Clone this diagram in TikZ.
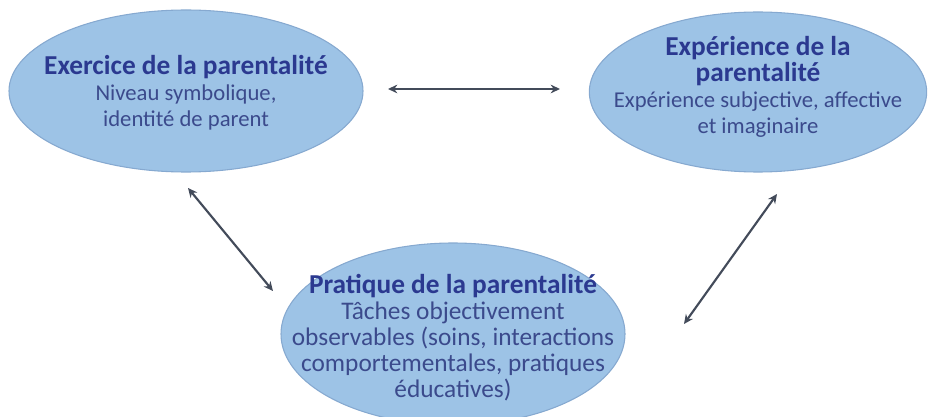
\documentclass[tikz,border=0pt]{standalone}
\usepackage{fontspec}
\setmainfont{Carlito}
\usetikzlibrary{shapes.geometric,arrows.meta}

\begin{document}
\begin{tikzpicture}[x=0.75pt, y=-0.75pt, >={Stealth[length=7pt,width=6.5pt]},
  bubble/.style={ellipse, fill=bubblefill, draw=bubbleedge, line width=0.8pt, inner sep=0pt},
  bubbletext/.style={align=center, text=bodyblue, font=\fontsize{17}{19.5}\selectfont},
  link/.style={<->, draw=arrowgrey, line width=1.6pt}]
  \definecolor{bubblefill}{HTML}{9DC3E6}
  \definecolor{bubbleedge}{HTML}{86A9D0}
  \definecolor{titleblue}{HTML}{2B3990}
  \definecolor{bodyblue}{HTML}{3B4A8C}
  \definecolor{arrowgrey}{HTML}{434B5A}
  \newcommand{\ttl}[1]{{\color{titleblue}\bfseries\fontsize{20.5}{21}\selectfont #1}}

  \useasboundingbox (0,0) rectangle (928,417);
  \clip (0,0) rectangle (928,417);

  % ---- the three bubbles ---------------------------------------------------
  \node[bubble, minimum width=265.5pt, minimum height=121.5pt] (exercice) at (186,91) {};
  \node[bubble, minimum width=253pt, minimum height=120pt] (experience) at (758,92) {};
  \node[bubble, minimum width=258pt, minimum height=136.5pt] (pratique) at (453,334) {};

  % ---- texts, laid on the bubble centres -----------------------------------
  \node[bubbletext] (exercice-txt) at ([yshift=-1pt]exercice.center)
    {\ttl{Exercice de la parentalité}\\ Niveau symbolique,\\ identité de parent};
  \node[bubbletext] (experience-txt) at ([yshift=4pt]experience.center)
    {\ttl{Expérience de la}\\ \ttl{parentalité}\\ Expérience subjective, affective\\ et imaginaire};
  \node[bubbletext, font=\fontsize{19}{19.5}\selectfont] (pratique-txt) at ([yshift=-3pt]pratique.center)
    {\ttl{Pratique de la parentalité}\\ Tâches objectivement\\ observables (soins, interactions\\
     comportementales, pratiques\\ éducatives)};

  % ---- two-way links, free ends as coordinates -----------------------------
  \coordinate (exE) at (388,89);   \coordinate (xpW) at (560,89);
  \coordinate (exS) at (188,188);  \coordinate (prW) at (273,291);
  \coordinate (xpS) at (777,194);  \coordinate (prE) at (684,324);
  \foreach \a/\b in {exE/xpW, exS/prW, xpS/prE}
    \draw[link] (\a) -- (\b);
\end{tikzpicture}
\end{document}
